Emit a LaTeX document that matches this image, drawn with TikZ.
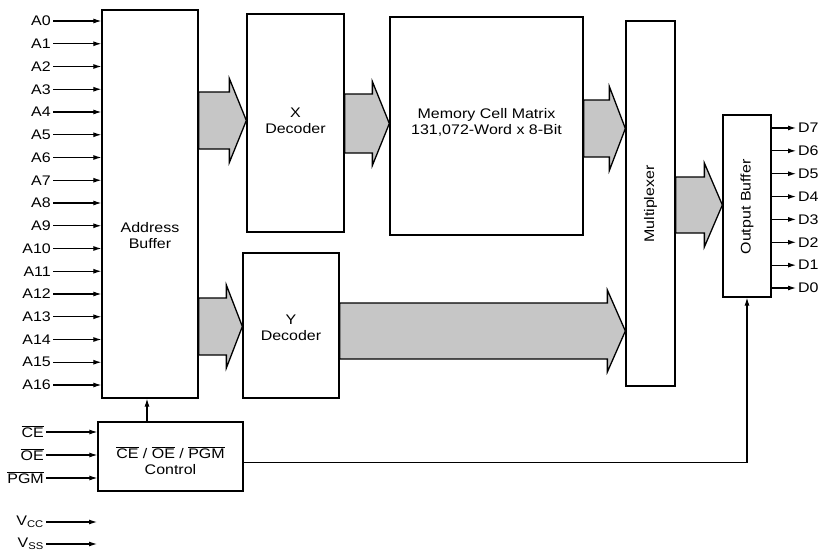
\documentclass[tikz,border=0pt]{standalone}
\usepackage{fontspec}
\setmainfont{Liberation Sans}[FakeStretch=1.15]
\usepackage{tikz}
\usetikzlibrary{arrows.meta,calc,positioning}

\newcommand{\ovl}[1]{\ensuremath{\overline{\mbox{#1}}}}
% fat bus arrow: from, to, y centre, shaft half, head half, head length
\newcommand{\busarrow}[6]{%
  \draw[bus] (#1.east |- 0,{#3-#4}) -- ($(#2.west |- 0,{#3-#4})+(-#6,0)$)
    -- ($(#2.west |- 0,{#3-#5})+(-#6,0)$) -- (#2.west |- 0,#3)
    -- ($(#2.west |- 0,{#3+#5})+(-#6,0)$) -- ($(#2.west |- 0,{#3+#4})+(-#6,0)$)
    -- (#1.east |- 0,{#3+#4}) -- cycle;}

\begin{document}
\begin{tikzpicture}[
    x=1pt, y=-1pt,
    font=\fontsize{13.9}{16}\selectfont,
    block/.style={draw, line width=1.3pt, inner sep=0pt},
    txt/.style={align=center, inner sep=0pt},
    pinlabel/.style={inner sep=2pt},
    arrow/.style={-{Latex[length=8pt,width=5pt]}, line width=1.1pt},
    bus/.style={line width=1.3pt, fill=gray!45},
]
\useasboundingbox (0,0) rectangle (823,554);

% blocks
\node[block, minimum width=96pt, minimum height=388pt] (addr) at (150,204) {};
\node[block, minimum width=97pt, minimum height=218pt] (xdec) at (295.5,123) {};
\node[block, minimum width=193pt, minimum height=218pt] (mem) at (486.5,126) {};
\node[block, minimum width=96pt, minimum height=145pt] (ydec) at (291,325.5) {};
\node[block, minimum width=49pt, minimum height=365pt] (mux) at (650.5,203.5) {};
\node[block, minimum width=48pt, minimum height=182pt] (outb) at (747,206) {};
\node[block, minimum width=145pt, minimum height=69pt] (ctrl) at (170.5,456.5) {};

% block texts
\node[txt] (addrtext) at (150,236) {Address\\Buffer};
\node[txt] (xdectext) at (295.5,121) {X\\Decoder};
\node[txt] (memtext) at (486.5,122) {Memory Cell Matrix\\131,072-Word x 8-Bit};
\node[txt] (ydectext) at (291,328) {Y\\Decoder};
\node[txt, rotate=90] (muxtext) at (650.5,204) {Multiplexer};
\node[txt, rotate=90] (outbtext) at (747,207) {Output Buffer};
\node[txt] (ctrltext) at (170.5,461) {\ovl{CE} / \ovl{OE} / \ovl{PGM}\\Control};

% address inputs
\foreach \i in {0,...,16} {
  \node[pinlabel, anchor=east] (a\i) at (53,{21+22.75*\i}) {A\i};
  \draw[arrow] (a\i.east) -- (a\i.east -| addr.west);
}

% control inputs
\node[pinlabel, anchor=east] (ce) at (46,432) {\ovl{CE}};
\node[pinlabel, anchor=east] (oe) at (46,455) {\ovl{OE}};
\node[pinlabel, anchor=east] (pgm) at (46,478) {\ovl{PGM}};
\foreach \s in {ce,oe,pgm}
  \draw[arrow] (\s.east) -- (\s.east -| ctrl.west);

% supply pins
\node[pinlabel, anchor=east] (vcc) at (46,522) {V\textsubscript{CC}};
\node[pinlabel, anchor=east] (vss) at (46,544) {V\textsubscript{SS}};
\coordinate (vccend) at (97,522);
\coordinate (vssend) at (97,544);
\draw[arrow] (vcc.east) -- (vccend);
\draw[arrow] (vss.east) -- (vssend);

% data outputs
\foreach \j in {0,...,7} {
  \node[pinlabel, anchor=west] (d\j) at (796,{288-22.86*\j}) {D\j};
  \draw[arrow] (d\j.west -| outb.east) -- (d\j.west);
}

% control lines
\draw[arrow] (ctrl.north -| 147,0) -- (addr.south -| 147,0);
\draw[arrow] ([yshift=-6pt]ctrl.east) -| (outb.south);

% buses
\busarrow{addr}{xdec}{120.5}{28.5}{42}{17}
\busarrow{xdec}{mem}{123.5}{29.5}{42}{17}
\busarrow{mem}{mux}{128.5}{28.5}{42}{16}
\busarrow{mux}{outb}{205}{28}{42}{18}
\busarrow{addr}{ydec}{326.5}{28.5}{41.5}{16}
\busarrow{ydec}{mux}{331}{28}{41}{18}

\end{tikzpicture}
\end{document}
